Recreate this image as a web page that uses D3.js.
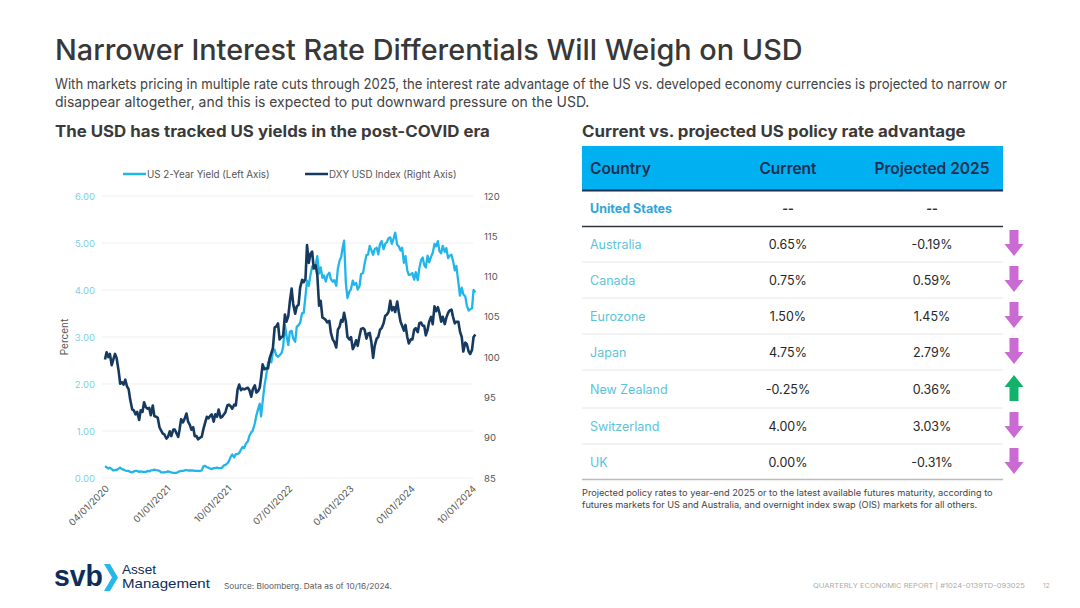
<!DOCTYPE html>
<html><head><meta charset="utf-8">
<script src="https://cdn.jsdelivr.net/npm/d3@7"></script>
<style>
html,body{margin:0;padding:0;background:#fff;}
svg{display:block;}
</style></head>
<body>
<svg id="chart" width="1080" height="608"></svg>
<script>
// ---------- DATA ----------
// Weekly-ish observations (days 1, 8, 16, 23 of each month), Apr 2020 – 16 Oct 2024
const startMonth = "2020-04";
const obsDays = [1, 8, 16, 23];
const us2yYield = [
  // 2020 Apr–Dec
  0.25,0.23,0.20,0.22, 0.19,0.16,0.17,0.17, 0.20,0.22,0.19,0.18, 0.16,0.15,0.15,0.13, 0.12,0.14,0.15,0.15, 0.13,0.14,0.13,0.13, 0.13,0.15,0.14,0.16, 0.17,0.18,0.17,0.16, 0.15,0.12,0.12,0.12,
  // 2021
  0.13,0.14,0.13,0.12, 0.11,0.11,0.11,0.13, 0.14,0.15,0.15,0.16, 0.17,0.16,0.16,0.16, 0.16,0.15,0.15,0.15, 0.15,0.16,0.25,0.26, 0.23,0.22,0.20,0.19, 0.21,0.21,0.22,0.21, 0.21,0.22,0.27,0.28, 0.31,0.36,0.45,0.50, 0.44,0.51,0.51,0.53, 0.60,0.66,0.64,0.73,
  // 2022
  0.78,0.90,0.97,1.01, 1.16,1.33,1.47,1.58, 1.31,1.62,1.95,2.15, 2.44,2.51,2.46,2.68, 2.73,2.61,2.58,2.61, 2.66,2.79,3.25,3.03, 2.83,3.11,3.13,2.97, 2.90,3.22,3.25,3.30, 3.51,3.51,3.87,4.20, 4.09,4.31,4.50,4.48, 4.55,4.72,4.35,4.48, 4.26,4.31,4.18,4.31,
  // 2023
  4.37,4.23,4.18,4.21, 4.09,4.45,4.63,4.70, 4.89,5.05,4.14,3.83, 3.97,4.02,4.20,4.11, 4.15,4.01,4.08,4.34, 4.36,4.56,4.74,4.75, 4.94,4.85,4.75,4.87, 4.90,4.76,4.98,5.04, 4.87,4.98,5.02,5.10, 5.12,4.98,5.10,5.22, 4.96,4.93,4.84,4.90, 4.58,4.72,4.42,4.32,
  // 2024 Jan–Oct
  4.33,4.36,4.22,4.38, 4.21,4.46,4.64,4.69, 4.53,4.48,4.73,4.59, 4.71,4.79,4.98,4.93, 5.04,4.83,4.78,4.94, 4.81,4.89,4.68,4.73, 4.75,4.62,4.42,4.51, 4.16,3.88,4.05,3.91, 3.86,3.67,3.56,3.59, 3.61,4.00,3.95
];
const dxyIndex = [
  // 2020 Apr–Dec
  99.7,100.6,100.0,100.4, 99.0,99.7,100.4,99.9, 98.3,96.7,96.9,96.6, 97.2,96.4,96.0,94.7, 93.5,93.4,92.9,93.2, 92.2,93.4,93.2,94.4, 93.8,93.6,93.7,92.8, 94.0,92.7,92.6,92.5, 91.3,90.9,90.5,90.4,
  // 2021
  89.9,90.1,90.8,90.2, 91.0,91.0,90.5,90.1, 91.0,92.3,91.9,92.3, 93.0,92.0,91.6,91.0, 91.3,90.2,90.2,89.8, 90.0,90.1,91.1,91.8, 92.6,92.4,92.7,92.9, 92.0,92.9,92.6,93.5, 92.5,92.6,92.9,93.2, 94.0,94.1,93.9,93.6, 94.1,94.0,96.0,96.6, 95.9,96.1,96.0,96.1,
  // 2022
  96.2,95.9,95.1,96.0, 96.5,95.6,95.8,96.2, 97.4,99.1,98.5,98.6, 98.6,99.8,100.5,101.1, 103.7,103.8,104.2,102.2, 102.5,102.6,105.3,104.4, 105.1,106.9,108.5,106.6, 105.4,106.3,106.5,108.6, 109.6,109.3,109.7,113.9, 111.7,112.8,113.1,111.0, 111.4,110.2,106.4,107.0, 104.9,104.8,104.6,104.3,
  // 2023
  104.5,103.0,102.2,101.9, 101.2,103.4,103.8,104.6, 104.4,105.5,104.4,102.5, 102.2,102.5,101.0,101.4, 102.1,101.4,102.6,103.5, 103.6,103.4,102.3,102.9, 103.0,101.9,99.9,101.4, 102.3,102.5,103.4,103.6, 104.2,105.1,105.3,105.6, 107.0,105.8,106.2,105.6, 106.9,105.6,104.4,103.9, 103.3,104.0,102.5,101.7,
  // 2024 Jan–Oct
  102.2,102.2,103.4,103.6, 103.1,104.2,104.3,103.9, 103.9,102.7,103.4,104.4, 105.0,104.1,106.3,105.7, 106.2,105.5,104.4,105.0, 104.1,104.9,105.5,105.8, 105.9,105.0,104.2,104.4, 104.4,103.2,102.5,100.7, 101.8,101.6,100.7,100.4, 100.9,102.5,102.8
];
const leftTicks = [0, 1, 2, 3, 4, 5, 6];
const rightTicks = [85, 90, 95, 100, 105, 110, 115, 120];
const xTickLabels = ["04/01/2020","01/01/2021","10/01/2021","07/01/2022","04/01/2023","01/01/2024","10/01/2024"];
const seriesNames = ["US 2-Year Yield (Left Axis)", "DXY USD Index (Right Axis)"];

const tableHeader = ["Country", "Current", "Projected 2025"];
const countries = ["Australia","Canada","Eurozone","Japan","New Zealand","Switzerland","UK"];
const currentAdv = ["0.65%","0.75%","1.50%","4.75%","-0.25%","4.00%","0.00%"];
const projectedAdv = ["-0.19%","0.59%","1.45%","2.79%","0.36%","3.03%","-0.31%"];
const direction = ["down","down","down","down","up","down","down"];

// ---------- SETUP ----------
const svg = d3.select("#chart");
const FONT = "Inter, 'Open Sans', 'Liberation Sans', sans-serif";
const LOGOFONT = "'Liberation Sans', Arial, sans-serif";
const parseMonth = d3.timeParse("%Y-%m");
const m0 = parseMonth(startMonth);
const dates = us2yYield.map((_, i) => {
  const m = d3.timeMonth.offset(m0, Math.floor(i / 4));
  return new Date(m.getFullYear(), m.getMonth(), obsDays[i % 4]);
});
const parseTick = d3.timeParse("%m/%d/%Y");

// fit a start-anchored text to a target width by horizontal scaling
function fit(sel, w) {
  const n = sel.node().getComputedTextLength();
  const x0 = +sel.attr("x");
  const k = w / n;
  sel.attr("transform", `translate(${x0 * (1 - k)},0) scale(${k},1)`);
  return sel;
}
function txt(xp, yp, size, color, str, opts = {}) {
  const t = svg.append("text").attr("x", xp).attr("y", yp)
    .attr("font-family", opts.family || FONT).attr("font-size", size)
    .attr("font-weight", opts.weight || 400).attr("fill", color).text(str);
  if (opts.width) fit(t, opts.width);
  return t;
}

// ---------- HEADINGS ----------
txt(55, 60, 29, "#383838", "Narrower Interest Rate Differentials Will Weigh on USD", { weight: 500, width: 748 });
txt(55, 89, 14.5, "#444", "With markets pricing in multiple rate cuts through 2025, the interest rate advantage of the US vs. developed economy currencies is projected to narrow or", { width: 953 });
txt(55, 107, 14.5, "#444", "disappear altogether, and this is expected to put downward pressure on the USD.", { width: 535 });
txt(55, 137, 15.5, "#3a3a3a", "The USD has tracked US yields in the post-COVID era", { weight: 700, width: 435 });
txt(582, 137, 15.5, "#3a3a3a", "Current vs. projected US policy rate advantage", { weight: 700, width: 384 });

// ---------- LINE CHART ----------
const LIGHT = "#22b5ea", DARK = "#163a5f";
const x = d3.scaleTime().domain([parseTick("04/01/2020"), parseTick("10/01/2024")]).range([105, 472]);
const yL = d3.scaleLinear().domain([0, 6]).range([478, 196]);
const yR = d3.scaleLinear().domain([85, 120]).range([478, 196]);

const grid = svg.append("g");
grid.selectAll("line").data(leftTicks).join("line")
  .attr("x1", 102).attr("x2", 473)
  .attr("y1", d => yL(d)).attr("y2", d => yL(d))
  .attr("stroke", "#efefef").attr("stroke-width", 1);

const gL = svg.append("g").attr("transform", "translate(97,0)")
  .call(d3.axisLeft(yL).tickValues(leftTicks).tickFormat(d3.format(".2f")).tickSize(0).tickPadding(2));
gL.select(".domain").remove();
gL.selectAll("text").attr("font-family", FONT).attr("font-size", 9.5).attr("fill", "#7fcfe2");

const gR = svg.append("g").attr("transform", "translate(482,0)")
  .call(d3.axisRight(yR).tickValues(rightTicks).tickSize(0).tickPadding(2));
gR.select(".domain").remove();
gR.selectAll("text").attr("font-family", FONT).attr("font-size", 9.5).attr("fill", "#555");

const gX = svg.append("g").attr("transform", "translate(0,484)")
  .call(d3.axisBottom(x).tickValues(xTickLabels.map(parseTick)).tickFormat(d3.timeFormat("%m/%d/%Y")).tickSize(0));
gX.select(".domain").remove();
gX.selectAll("text")
  .attr("font-family", FONT).attr("font-size", 9.5).attr("fill", "#555")
  .attr("text-anchor", "end").attr("x", 0).attr("y", 0).attr("dy", "0.35em")
  .attr("transform", "translate(2,3) rotate(-45)");

svg.append("text")
  .attr("transform", "translate(68,337) rotate(-90)")
  .attr("text-anchor", "middle")
  .attr("font-family", FONT).attr("font-size", 10).attr("fill", "#555")
  .text("Percent");

const pts = dates.map((d, i) => ({ d, y: us2yYield[i], dx: dxyIndex[i] }));
svg.append("path").datum(pts)
  .attr("fill", "none").attr("stroke", LIGHT).attr("stroke-width", 2.3).attr("stroke-linejoin", "round")
  .attr("d", d3.line().x(p => x(p.d)).y(p => yL(p.y)));
svg.append("path").datum(pts)
  .attr("fill", "none").attr("stroke", DARK).attr("stroke-width", 2.6).attr("stroke-linejoin", "round")
  .attr("d", d3.line().x(p => x(p.d)).y(p => yR(p.dx)));

// legend
const legX = [123, 305];
const legColors = [LIGHT, DARK];
seriesNames.forEach((name, i) => {
  svg.append("line").attr("x1", legX[i]).attr("x2", legX[i] + 23)
    .attr("y1", 174).attr("y2", 174).attr("stroke", legColors[i]).attr("stroke-width", 2.5);
  svg.append("text").attr("x", legX[i] + 24).attr("y", 177.5)
    .attr("font-family", FONT).attr("font-size", 9.8).attr("fill", "#555")
    .text(name);
});

// ---------- TABLE ----------
const tX0 = 582, tX1 = 1003;
const colX = [590, 788, 932];
const NAVY = "#1d2f52";
svg.append("rect").attr("x", tX0).attr("y", 146).attr("width", tX1 - tX0).attr("height", 44).attr("fill", "#00b0f0");
svg.selectAll(".hdr").data(tableHeader).join("text").attr("class", "hdr")
  .attr("x", (d, i) => colX[i]).attr("y", 173.5)
  .attr("text-anchor", (d, i) => i === 0 ? "start" : "middle")
  .attr("font-family", FONT).attr("font-size", 15.5).attr("font-weight", 600).attr("fill", NAVY)
  .text(d => d);
svg.append("line").attr("x1", tX0).attr("x2", tX1).attr("y1", 190.5).attr("y2", 190.5).attr("stroke", NAVY).attr("stroke-width", 2);

// United States row
svg.append("text").attr("x", colX[0]).attr("y", 212.5)
  .attr("font-family", FONT).attr("font-size", 12.5).attr("font-weight", 700).attr("fill", "#2fa6da")
  .text("United States");
[1, 2].forEach(c => svg.append("text").attr("x", colX[c]).attr("y", 212.5).attr("text-anchor", "middle")
  .attr("font-family", FONT).attr("font-size", 12.5).attr("font-weight", 700).attr("fill", "#333").text("--"));
svg.append("line").attr("x1", tX0).attr("x2", tX1).attr("y1", 226.5).attr("y2", 226.5).attr("stroke", "#2a3340").attr("stroke-width", 1.5);

const rowY = [244, 280, 316, 352, 389, 426, 462];
const sepY = [262, 298, 334, 370, 408, 444, 479.5];
const rows = svg.append("g").selectAll("g").data(countries).join("g");
rows.append("text").attr("x", colX[0]).attr("y", (d, i) => rowY[i] + 4.5)
  .attr("font-family", FONT).attr("font-size", 12.5).attr("fill", "#5cc4d8").text(d => d);
rows.append("text").attr("x", colX[1]).attr("y", (d, i) => rowY[i] + 4.5).attr("text-anchor", "middle")
  .attr("font-family", FONT).attr("font-size", 12.5).attr("fill", "#262626").text((d, i) => currentAdv[i]);
rows.append("text").attr("x", colX[2]).attr("y", (d, i) => rowY[i] + 4.5).attr("text-anchor", "middle")
  .attr("font-family", FONT).attr("font-size", 12.5).attr("fill", "#262626").text((d, i) => projectedAdv[i]);
rows.append("line").attr("x1", tX0).attr("x2", tX1)
  .attr("y1", (d, i) => sepY[i]).attr("y2", (d, i) => sepY[i])
  .attr("stroke", (d, i) => i === countries.length - 1 ? "#bbbbbb" : "#e6e6e6").attr("stroke-width", (d, i) => i === countries.length - 1 ? 1.5 : 1);

// arrows
const downArrow = "M-4.5,-13 L4.5,-13 L4.5,1 L9.5,1 L0,13 L-9.5,1 L-4.5,1 Z";
const upArrow = "M-4.5,13 L4.5,13 L4.5,-1 L9.5,-1 L0,-13 L-9.5,-1 L-4.5,-1 Z";
rows.append("path")
  .attr("transform", (d, i) => `translate(1014,${rowY[i] - 1})`)
  .attr("d", (d, i) => direction[i] === "up" ? upArrow : downArrow)
  .attr("fill", (d, i) => direction[i] === "up" ? "#12b26b" : "#c96bd3");

// note
txt(582, 496, 9, "#444", "Projected policy rates to year-end 2025 or to the latest available futures maturity, according to", { width: 411 });
txt(582, 508, 9, "#444", "futures markets for US and Australia, and overnight index swap (OIS) markets for all others.", { width: 396 });

// ---------- FOOTER ----------
txt(54, 586, 29, "#0d2d5a", "svb", { family: LOGOFONT, weight: 700, width: 49 });
svg.append("path").attr("d", "M104,564 L110,564 L118,577.5 L110,591 L104,591 L112,577.5 Z").attr("fill", "#27b6ea");
txt(122, 574, 12.5, "#0d2d5a", "Asset", { family: LOGOFONT, width: 34 });
txt(122, 588.5, 12.5, "#0d2d5a", "Management", { family: LOGOFONT, width: 88 });
txt(224, 589, 7.5, "#555", "Source: Bloomberg. Data as of 10/16/2024.", { width: 168 });
txt(813, 588, 6.5, "#aaa", "QUARTERLY ECONOMIC REPORT | #1024-0139TD-093025", { width: 212 });
txt(1043, 588, 6.5, "#aaa", "12");
</script>
</body></html>
